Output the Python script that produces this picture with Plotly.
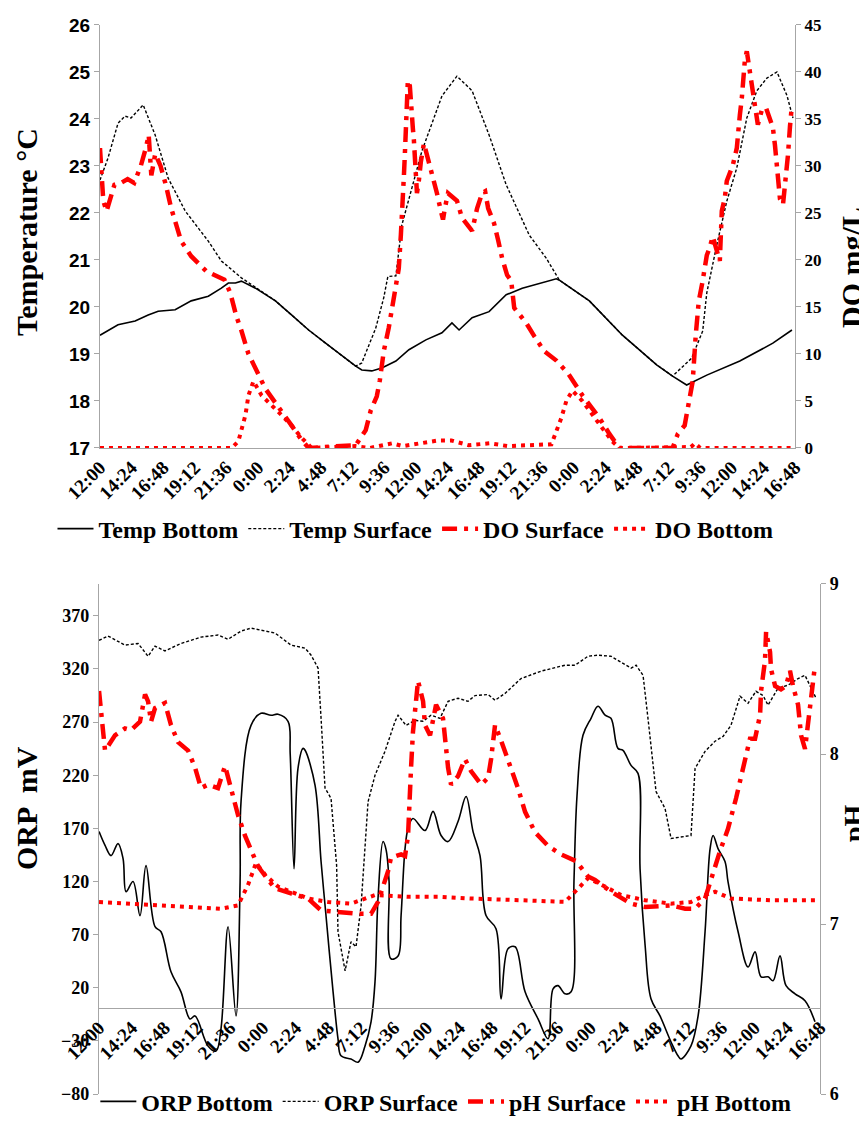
import plotly.graph_objects as go

# ---------------- data (time in hours from 12:00 of day 1) ----------------
TICK_LABELS = ["12:00", "14:24", "16:48", "19:12", "21:36", "0:00", "2:24", "4:48",
               "7:12", "9:36", "12:00", "14:24", "16:48", "19:12", "21:36", "0:00",
               "2:24", "4:48", "7:12", "9:36", "12:00", "14:24", "16:48"]
TICK_HOURS = [2.4 * i for i in range(len(TICK_LABELS))]

TEMP_BOTTOM = [(0, 19.40), (1.37, 19.62), (2.67, 19.70), (3.66, 19.83), (4.42, 19.91),
               (5.71, 19.94), (6.93, 20.13), (8.23, 20.23), (9.22, 20.40), (9.75, 20.51),
               (10.29, 20.51), (10.74, 20.55), (11.81, 20.40), (13.33, 20.13), (14.55, 19.83),
               (15.85, 19.51), (17.14, 19.23), (18.36, 18.96), (19.43, 18.74), (19.89, 18.66),
               (20.65, 18.64), (21.41, 18.70), (22.48, 18.85), (23.47, 19.09), (24.76, 19.30),
               (25.98, 19.45), (26.74, 19.66), (27.28, 19.51), (28.27, 19.77), (29.56, 19.90),
               (30.86, 20.26), (32.08, 20.40), (33.37, 20.50), (34.67, 20.60), (34.90, 20.57),
               (37.18, 20.13), (39.69, 19.40), (42.29, 18.77), (43.50, 18.53), (44.57, 18.34),
               (46.10, 18.55), (48.61, 18.85), (51.12, 19.23), (52.57, 19.51)]

TEMP_SURFACE = [(0, 22.70), (0.61, 23.17), (1.37, 23.91), (1.90, 24.06), (2.36, 24.02),
                (3.28, 24.30), (4.19, 23.66), (5.18, 22.74), (6.48, 22.04), (8.23, 21.40),
                (9.22, 20.98), (10.74, 20.62), (11.81, 20.42), (13.33, 20.13), (14.55, 19.83),
                (15.85, 19.51), (17.14, 19.23), (18.36, 18.96), (19.43, 18.74), (19.89, 18.81),
                (20.95, 19.55), (21.56, 20.20), (21.87, 20.65), (22.48, 20.66), (22.93, 21.74),
                (24.46, 23.32), (25.98, 24.49), (27.12, 24.91), (28.27, 24.60), (29.56, 23.66),
                (30.86, 22.60), (32.61, 21.53), (33.90, 21.04), (34.67, 20.68), (34.90, 20.57),
                (37.18, 20.13), (39.69, 19.40), (42.29, 18.77), (43.50, 18.53), (44.95, 18.91),
                (45.79, 19.49), (46.10, 20.30), (46.86, 21.32), (47.62, 22.25), (48.38, 22.96),
                (49.14, 24.02), (49.90, 24.60), (50.67, 24.87), (51.43, 25.00), (52.19, 24.50),
                (52.65, 24.02)]

DO_SURFACE = [(0, 31.9), (0.25, 26.3), (0.5, 25.2), (1.1, 28.0), (1.6, 28.2), (2.1, 28.6),
              (2.6, 28.2), (3.1, 30.0), (3.5, 32.0), (3.7, 33.3), (3.9, 29.0), (4.2, 31.3),
              (4.6, 30.0), (5.0, 28.0), (5.41, 25.5), (6.17, 22.0), (6.93, 20.4), (8.08, 18.8),
              (9.45, 17.9), (9.9, 16.5), (10.36, 14.0), (10.74, 12.5), (11.28, 10.0), (11.81, 8.5),
              (12.57, 6.3), (13.33, 4.8), (13.94, 3.5), (14.55, 2.4), (15.24, 1.0), (15.85, 0.0),
              (19.43, 0.3), (20.19, 1.9), (20.57, 4.0), (21.03, 5.5), (21.26, 7.2), (21.56, 10.3),
              (21.94, 12.8), (22.17, 14.9), (22.48, 17.3), (22.7, 19.1), (22.86, 22.7), (22.93, 25.5),
              (23.09, 29.0), (23.16, 31.2), (23.24, 34.0), (23.31, 36.7), (23.39, 39.1), (23.54, 38.5),
              (23.7, 36.2), (23.77, 34.0), (23.85, 32.7), (23.92, 30.5), (24.0, 28.5), (24.08, 27.1),
              (24.23, 28.5), (24.38, 30.5), (24.61, 32.4), (24.99, 30.5), (25.3, 28.9), (25.6, 27.1),
              (25.9, 25.2), (26.06, 24.3), (26.2, 25.5), (26.44, 27.1), (27.12, 26.3), (27.5, 24.5),
              (28.27, 23.1), (28.65, 25.5), (29.03, 27.1), (29.26, 27.3), (29.49, 25.5), (29.94, 23.9),
              (30.25, 22.1), (30.55, 20.2), (30.93, 18.4), (31.24, 17.8), (31.47, 14.9), (32.38, 13.3),
              (32.99, 11.9), (33.75, 10.3), (34.67, 9.3), (35.58, 7.9), (36.65, 5.6), (37.94, 3.2),
              (38.7, 1.5), (39.47, 0.0), (43.5, 0.0), (43.9, 1.5), (44.42, 2.4), (45.03, 7.1),
              (45.26, 12.0), (45.49, 15.6), (45.79, 17.8), (46.1, 20.5), (46.32, 21.3), (46.55, 22.5),
              (46.86, 21.0), (47.09, 19.9), (47.24, 25.2), (47.47, 26.6), (47.62, 28.4), (48.08, 30.1),
              (48.38, 31.9), (48.46, 33.7), (48.61, 35.4), (48.76, 37.2), (48.84, 39.1), (48.99, 41.2),
              (49.14, 42.2), (49.37, 39.9), (49.52, 38.1), (49.75, 36.5), (49.98, 34.4), (50.29, 36.0),
              (50.59, 36.2), (50.9, 35.1), (51.12, 34.1), (51.28, 32.2), (51.43, 30.3), (51.5, 28.5),
              (51.66, 26.5), (51.89, 25.9), (52.11, 28.6), (52.27, 31.2), (52.42, 34.2), (52.57, 36.5)]

DO_BOTTOM = [(0, 0.0), (10.0, 0.0), (10.51, 0.7), (10.74, 1.8), (11.05, 3.5), (11.28, 5.6),
             (11.66, 7.1), (12.27, 5.6), (13.03, 4.6), (13.79, 3.5), (14.55, 2.4), (15.31, 1.1),
             (16.08, 0.0), (19.4, 0.2), (20.5, 0.0), (22.2, 0.5), (23.0, 0.2), (24.0, 0.4),
             (25.7, 0.8), (26.7, 0.8), (27.2, 0.6), (28.0, 0.3), (29.6, 0.5), (31.0, 0.2),
             (34.3, 0.4), (34.67, 1.8), (35.05, 3.2), (35.43, 5.0), (35.89, 6.1), (36.65, 5.0),
             (37.41, 3.5), (38.17, 2.1), (38.93, 0.7), (39.47, 0.0), (44.9, 0.1), (45.2, 0.5),
             (45.6, 0.0), (52.7, 0.0)]

ORP_BOTTOM = [(0, 167), (0.44, 154), (0.88, 144.4), (1.39, 155.7), (1.76, 141.6), (1.98, 110.5),
              (2.49, 120), (3.0, 87.9), (3.44, 135), (4.1, 77.5), (4.54, 72.7), (5.27, 35),
              (6.0, 16.2), (6.66, -9.3), (7.03, -6.5), (7.98, -34.7), (8.57, -39.5), (8.93, -18.7),
              (9.45, 77.5), (10.03, -6.5), (10.33, 120), (10.4, 195.4), (11.13, 267), (11.86, 278.3),
              (12.6, 276.5), (13.11, 277.4), (13.84, 270.8), (14.0, 240), (14.28, 132), (14.57, 226.5),
              (14.94, 245.3), (15.09, 243.5), (15.82, 210.5), (16.26, 138.8), (16.62, 88), (17.14, 16.2),
              (17.5, -28), (17.72, -44), (18.45, -47), (18.97, -50), (19.48, -34.7), (19.92, -12),
              (20.21, 25.6), (20.43, 104), (20.8, 157.6), (21.02, 150), (21.24, 120), (21.38, 47.3),
              (21.9, 50), (22.12, 88), (22.41, 151), (22.63, 170), (22.99, 179.3), (23.87, 168),
              (24.46, 186), (25.05, 163.3), (25.56, 157.6), (26.29, 176.5), (26.88, 200), (27.39, 167),
              (27.9, 144.4), (28.34, 88), (29.07, 75.6), (29.44, 9.6), (29.95, 56.7), (30.47, 58.6),
              (31.2, 16.2), (32.15, -9.3), (32.88, -28), (33.25, 19), (33.61, 22), (34.13, 14.3),
              (34.57, 16.2), (34.78, 120), (35.0, 200), (35.44, 257.6), (36.03, 273.6), (36.54, 285),
              (37.06, 276.5), (37.49, 273.6), (38.0, 245.3), (38.37, 243.5), (38.96, 229.3),
              (39.47, 221.8), (39.62, 132), (39.99, 60), (40.42, 9.6), (41.08, -6.5), (41.89, -31),
              (42.4, -44), (42.62, -47), (43.35, -34.7), (43.87, -6.5), (44.38, 72.7), (44.75, 151),
              (44.97, 163.3), (45.33, 151), (45.84, 138.8), (46.06, 120), (46.8, 72.7), (47.53, 39.6),
              (48.04, 53.8), (48.48, 30.3), (48.99, 30.3), (49.36, 26.6), (49.87, 50), (50.31, 22),
              (50.97, 14.3), (51.7, 7.8), (52.43, -12)]

ORP_SURFACE = [(0, 347), (0.66, 351), (1.9, 342.5), (2.86, 344), (3.59, 332), (4.1, 341.5),
               (4.83, 337), (6.0, 344), (7.47, 350), (8.71, 352), (9.45, 348), (10.4, 355.7),
               (11.13, 358.5), (12.89, 353.8), (14.06, 342.5), (15.09, 339.6), (15.53, 333),
               (16.04, 320.8), (16.26, 273.6), (16.55, 208), (16.99, 198.2), (17.28, 148),
               (17.4, 135), (17.5, 72.7), (18.02, 36), (18.45, 63.3), (18.82, 58.6), (19.19, 97.3),
               (19.48, 151), (19.7, 195), (20.21, 220), (20.94, 242.5), (21.68, 270.8), (21.9, 276.5),
               (22.48, 267), (23.14, 271.7), (23.73, 270.8), (24.31, 276.5), (24.97, 273.6),
               (25.56, 289.6), (26.29, 292.5), (27.02, 289.6), (27.54, 295), (28.49, 296),
               (29.0, 290.6), (29.73, 297), (30.9, 311), (32.37, 318), (34.13, 323.6), (34.86, 323.6),
               (35.81, 332), (36.54, 333), (37.49, 332), (38.96, 320.8), (39.33, 323.6), (39.84, 314),
               (40.2, 273.6), (40.79, 204.7), (41.45, 188.8), (41.89, 160.5), (43.35, 163.3),
               (43.65, 226.5), (44.38, 242.5), (45.11, 252), (45.7, 256.6), (46.28, 267),
               (46.94, 294.4), (47.53, 287.8), (48.11, 299), (48.63, 295), (48.99, 286), (49.73, 302),
               (50.46, 304.8), (51.19, 311), (51.7, 314), (52.14, 302), (52.51, 292.5)]

PH_SURFACE = [(0, 8.37), (0.15, 8.25), (0.44, 8.02), (1.17, 8.11), (1.9, 8.15), (2.34, 8.14),
              (3.0, 8.19), (3.37, 8.35), (3.59, 8.31), (3.81, 8.19), (4.1, 8.27), (4.83, 8.30),
              (5.27, 8.17), (5.79, 8.07), (6.52, 8.02), (7.03, 7.92), (7.47, 7.80), (7.98, 7.82),
              (8.71, 7.80), (9.23, 7.93), (9.67, 7.80), (10.18, 7.64), (10.69, 7.52), (11.64, 7.34),
              (12.38, 7.26), (12.89, 7.21), (14.06, 7.18), (15.31, 7.15), (16.26, 7.08), (18.97, 7.06),
              (19.92, 7.06), (20.43, 7.13), (21.16, 7.31), (21.38, 7.39), (22.12, 7.41), (22.41, 7.40),
              (22.63, 7.52), (22.78, 7.72), (22.85, 7.92), (22.99, 8.13), (23.21, 8.31), (23.36, 8.43),
              (23.73, 8.31), (23.87, 8.17), (24.24, 8.11), (24.46, 8.21), (24.68, 8.29), (25.19, 8.21),
              (25.34, 8.07), (25.56, 7.92), (25.78, 7.82), (26.29, 7.87), (26.8, 7.97), (27.24, 7.90),
              (27.98, 7.82), (28.49, 7.86), (28.71, 7.97), (29.0, 8.17), (29.44, 8.08), (30.17, 7.92),
              (30.68, 7.80), (31.2, 7.66), (31.93, 7.54), (32.88, 7.46), (33.83, 7.41), (34.93, 7.37),
              (35.81, 7.28), (36.32, 7.26), (37.49, 7.19), (38.96, 7.12), (39.99, 7.10), (41.89, 7.11),
              (42.92, 7.09), (43.65, 7.09), (44.38, 7.15), (45.48, 7.43), (46.06, 7.56), (46.65, 7.74),
              (46.94, 7.84), (47.31, 7.97), (47.67, 8.09), (48.04, 8.09), (48.41, 8.23), (48.48, 8.37),
              (48.77, 8.55), (48.85, 8.72), (49.14, 8.60), (49.21, 8.50), (49.51, 8.40), (49.94, 8.38),
              (50.31, 8.40), (50.6, 8.49), (50.82, 8.40), (51.19, 8.29), (51.41, 8.11), (51.7, 8.03),
              (51.92, 8.17), (52.14, 8.31), (52.43, 8.52)]

PH_BOTTOM = [(0, 7.13), (6.74, 7.10), (8.93, 7.09), (10.18, 7.11), (10.91, 7.23), (11.5, 7.36),
             (12.16, 7.29), (13.11, 7.22), (14.35, 7.18), (15.31, 7.15), (16.77, 7.13), (18.45, 7.12),
             (20.21, 7.17), (22.63, 7.16), (25.05, 7.16), (27.24, 7.15), (30.9, 7.14), (34.13, 7.13),
             (34.86, 7.19), (35.81, 7.27), (37.06, 7.22), (38.23, 7.17), (39.99, 7.14), (41.89, 7.12),
             (43.35, 7.13), (44.38, 7.17), (45.11, 7.19), (46.28, 7.15), (49.21, 7.14), (52.43, 7.14)]

AXIS_TITLES = ["Temperature °C", "DO mg/L", "ORP  mV", "pH"]

# ---------------- styling ----------------
GRAY = "#a6a6a6"
RED = "#ff0000"
SERIF = "Liberation Serif"
SANS = "Liberation Sans"
DASHDOT = "15px,7px,4px,7px"
W, H = 867, 1123


def xy(pairs):
    return [p[0] for p in pairs], [p[1] for p in pairs]


def sfont(size, family=SERIF):
    return dict(family=family, size=size, color="black", weight="bold")


fig = go.Figure()

series = [
    ("Temp Bottom", TEMP_BOTTOM, "x", "y", dict(color="black", width=1.6, dash="solid"), "legend"),
    ("Temp Surface", TEMP_SURFACE, "x", "y", dict(color="black", width=1.4, dash="3px,2px"), "legend"),
    ("DO Surface", DO_SURFACE, "x", "y2", dict(color=RED, width=4.5, dash=DASHDOT), "legend"),
    ("DO Bottom", DO_BOTTOM, "x", "y2", dict(color=RED, width=4, dash="4px,5px"), "legend"),
    ("ORP Bottom", ORP_BOTTOM, "x2", "y3", dict(color="black", width=1.6, dash="solid"), "legend2"),
    ("ORP Surface", ORP_SURFACE, "x2", "y3", dict(color="black", width=1.4, dash="3px,2px"), "legend2"),
    ("pH Surface", PH_SURFACE, "x2", "y4", dict(color=RED, width=4.5, dash=DASHDOT), "legend2"),
    ("pH Bottom", PH_BOTTOM, "x2", "y4", dict(color=RED, width=4, dash="4px,5px"), "legend2"),
]
for name, pairs, xa, ya, line, leg in series:
    xs, ys = xy(pairs)
    shape = "spline" if name == "ORP Bottom" else "linear"
    fig.add_trace(go.Scatter(x=xs, y=ys, mode="lines", name=name, xaxis=xa, yaxis=ya,
                             line=line, line_shape=shape, legend=leg))

common_x = dict(range=[0, 52.8], tickmode="array", tickvals=TICK_HOURS, ticktext=TICK_LABELS,
                tickangle=-45, showline=True, linecolor=GRAY, linewidth=1.2, showgrid=False,
                zeroline=False, ticks="", tickfont=sfont(19), automargin=False)
common_y = dict(showline=True, linecolor=GRAY, linewidth=1.2, showgrid=False, zeroline=False,
                ticks="outside", ticklen=5, tickcolor=GRAY, automargin=False)

# axis titles placed as rotated annotations (anchor point in page pixels, font size)
title_spots = [(18, 224, 30), (18, 800, 30), (843, 260, 30), (845, 815, 28)]
title_order = [AXIS_TITLES[0], AXIS_TITLES[2], AXIS_TITLES[1], AXIS_TITLES[3]]
annotations = [
    dict(text=t, xref="paper", yref="paper", x=cx / W, y=1 - cy / H, xanchor="center",
         yanchor="middle", textangle=-90, showarrow=False, font=sfont(fs))
    for t, (cx, cy, fs) in zip(title_order, title_spots)
]

fig.update_layout(
    width=W, height=H, margin=dict(l=0, r=0, t=0, b=0),
    paper_bgcolor="white", plot_bgcolor="white",
    xaxis=dict(domain=[0.1061, 0.9077], anchor="y", **common_x),
    yaxis=dict(domain=[0.6082, 0.9849], anchor="x", range=[17, 26], dtick=1,
               tickfont=sfont(19, SANS), **common_y),
    yaxis2=dict(overlaying="y", side="right", anchor="x", range=[0, 45], dtick=5,
                tickfont=sfont(17), **common_y),
    xaxis2=dict(domain=[0.105, 0.9366], anchor="free", position=0.1093, **common_x),
    yaxis3=dict(domain=[0.0329, 0.4871], anchor="x2", range=[-80, 400], tick0=-80, dtick=50,
                tickfont=sfont(18), **common_y),
    yaxis4=dict(overlaying="y3", side="right", anchor="x2", range=[6, 9], dtick=1,
                tickfont=sfont(18), **common_y),
    annotations=annotations,
    legend=dict(orientation="h", x=0.47, xanchor="center", y=0.536, yanchor="middle",
                font=sfont(24), bgcolor="rgba(0,0,0,0)", itemwidth=36),
    legend2=dict(orientation="h", x=0.505, xanchor="center", y=0.026, yanchor="middle",
                 font=sfont(24), bgcolor="rgba(0,0,0,0)", itemwidth=36),
    showlegend=True,
)

fig.write_html("out.html")
